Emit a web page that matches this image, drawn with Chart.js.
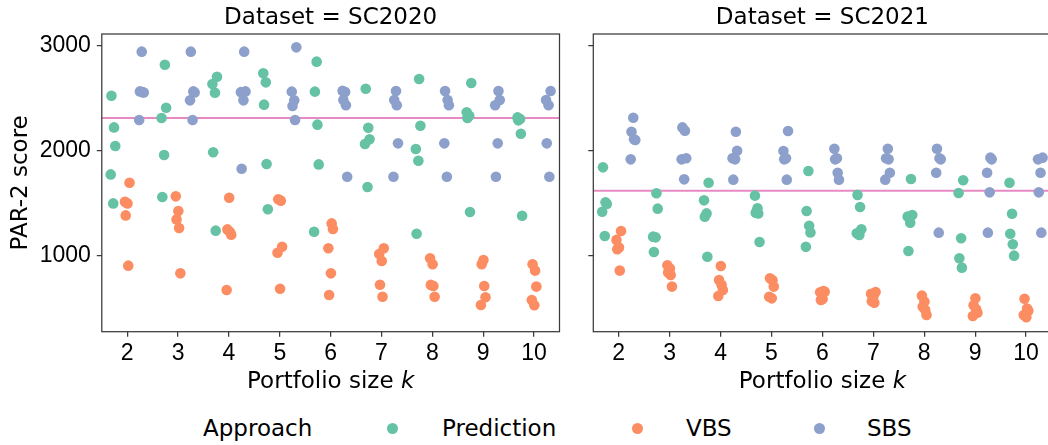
<!DOCTYPE html>
<html>
<head>
<meta charset="utf-8">
<script src="https://cdn.jsdelivr.net/npm/chart.js@4.4.1/dist/chart.umd.min.js"></script>
<style>
  html, body { margin: 0; padding: 0; background: #fff; overflow: hidden; width: 1048px; height: 445px; }
  canvas { position: absolute; top: 0; }
  #c1 { left: 0; }
  #c2 { left: 560px; }
  .leg { position: absolute; top: 415px; font: 23px "DejaVu Sans"; color: #000; line-height: 27px; white-space: nowrap; }
  .dot { position: absolute; top: 423px; width: 11px; height: 11px; border-radius: 50%; }
</style>
</head>
<body>
<canvas id="c1" width="566" height="400"></canvas>
<canvas id="c2" width="500" height="400"></canvas>

<div class="leg" style="left:203px">Approach</div>
<div class="dot" style="left:387px;background:#66c2a5"></div>
<div class="leg" style="left:442px">Prediction</div>
<div class="dot" style="left:632px;background:#fc8d62"></div>
<div class="leg" style="left:686px">VBS</div>
<div class="dot" style="left:814px;background:#8da0cb"></div>
<div class="leg" style="left:867px">SBS</div>

<script>
// portfolio sizes on the x axis
const categories = [2, 3, 4, 5, 6, 7, 8, 9, 10];
const yTicks = [1000, 2000, 3000];

// SC2020: one row per portfolio size, five scores each
const pred2020 = [
  [2524, 2223, 2046, 1776, 1500],
  [2819, 2410, 2312, 1960, 1561],
  [2705, 2635, 2553, 1986, 1241],
  [2737, 2651, 2439, 1875, 1444],
  [2848, 2563, 2249, 1871, 1231],
  [2591, 2220, 2109, 2065, 1656],
  [2683, 2239, 2017, 1906, 1212],
  [2645, 2366, 2334, 2312, 1418],
  [2318, 2303, 2290, 2163, 1383]
];
const vbs2020 = [
  [1697, 1515, 1500, 1386, 908],
  [1567, 1428, 1348, 1266, 835],
  [1554, 1253, 1228, 1203, 676],
  [1539, 1526, 1088, 1031, 689],
  [1310, 1256, 1073, 835, 629],
  [1073, 1019, 952, 727, 613],
  [978, 921, 725, 715, 613],
  [962, 921, 715, 607, 534],
  [921, 861, 709, 581, 531]
];
const sbs2020 = [
  [2943, 2565, 2558, 2555, 2293],
  [2943, 2565, 2555, 2480, 2293],
  [2943, 2565, 2558, 2480, 1830],
  [2984, 2563, 2480, 2426, 2293],
  [2570, 2560, 2483, 2433, 1754],
  [2569, 2483, 2433, 2071, 1754],
  [2569, 2483, 2433, 2071, 1754],
  [2569, 2483, 2433, 2071, 1754],
  [2569, 2483, 2433, 2071, 1754]
];

// SC2021
const pred2021 = [
  [1843, 1510, 1495, 1421, 1190],
  [1596, 1450, 1184, 1177, 1038],
  [1697, 1529, 1405, 1374, 993],
  [1574, 1453, 1412, 1405, 1133],
  [1808, 1428, 1287, 1224, 1087],
  [1581, 1466, 1254, 1216, 1200],
  [1732, 1390, 1375, 1317, 1047],
  [1720, 1599, 1168, 978, 889],
  [1697, 1402, 1212, 1111, 1003]
];
const vbs2021 = [
  [1237, 1153, 1080, 1065, 861],
  [911, 880, 842, 820, 709],
  [905, 772, 725, 677, 620],
  [788, 770, 709, 613, 597],
  [667, 660, 654, 590, 581],
  [657, 640, 620, 570, 556],
  [623, 566, 518, 487, 439],
  [597, 531, 493, 461, 430],
  [594, 500, 480, 439, 417]
];
const sbs2021 = [
  [2315, 2182, 2109, 2103, 1919],
  [2223, 2192, 1929, 1919, 1729],
  [2182, 2001, 1929, 1919, 1726],
  [2188, 1998, 1929, 1919, 1726],
  [2020, 1929, 1919, 1792, 1726],
  [2020, 1929, 1919, 1792, 1726],
  [2020, 1929, 1919, 1792, 1222],
  [1935, 1919, 1792, 1605, 1222],
  [1935, 1919, 1792, 1605, 1222]
];

// horizontal reference line per dataset
const refLine = [2312, 1621];

const colors = ['#66c2a5', '#fc8d62', '#8da0cb'];
const dodge = [-0.28, 0, 0.28];
const jitter = [-0.03, 0.02, 0.045, -0.045, 0.005];
const axisColor = '#3a3a3a';

function stripPoints(rows, hue) {
  const pts = [];
  categories.forEach((k, i) => {
    rows[i].forEach((v, j) => {
      pts.push({ x: k + dodge[hue] + jitter[(i + j + hue * 2) % jitter.length], y: v });
    });
  });
  return pts;
}

function makePanel(id, title, pred, vbs, sbs, ref, yWidth, padRight, first) {
  const deco = {
    id: 'deco',
    beforeDatasetsDraw(chart) {
      const ctx = chart.ctx, a = chart.chartArea;
      const y = chart.scales.y.getPixelForValue(ref);
      ctx.save();
      ctx.strokeStyle = '#e78ac3';
      ctx.lineWidth = 2;
      ctx.beginPath();
      ctx.moveTo(a.left, y);
      ctx.lineTo(a.right, y);
      ctx.stroke();
      ctx.restore();
    },
    afterDraw(chart) {
      const ctx = chart.ctx, a = chart.chartArea;
      ctx.save();
      ctx.strokeStyle = axisColor;
      ctx.lineWidth = 1.25;
      ctx.strokeRect(a.left, a.top, a.right - a.left, a.bottom - a.top);
      // x axis title with italic k
      const f1 = '23px "DejaVu Sans"', f2 = 'italic 23px "DejaVu Sans"';
      ctx.fillStyle = '#000';
      ctx.textBaseline = 'alphabetic';
      ctx.font = f1;
      const w1 = ctx.measureText('Portfolio size ').width;
      ctx.font = f2;
      const w2 = ctx.measureText('k').width;
      const x0 = (a.left + a.right) / 2 - (w1 + w2) / 2;
      ctx.font = f1;
      ctx.fillText('Portfolio size ', x0, 388);
      ctx.font = f2;
      ctx.fillText('k', x0 + w1, 388);
      ctx.restore();
    }
  };

  const grid = { drawOnChartArea: false, drawTicks: true, tickLength: 5, color: axisColor, lineWidth: 1.25 };

  return new Chart(document.getElementById(id), {
    type: 'scatter',
    data: {
      datasets: [
        { label: 'Prediction', data: stripPoints(pred, 0) },
        { label: 'VBS', data: stripPoints(vbs, 1) },
        { label: 'SBS', data: stripPoints(sbs, 2) }
      ].map((d, h) => Object.assign(d, {
        backgroundColor: colors[h],
        borderColor: colors[h],
        borderWidth: 0,
        pointRadius: 5.3,
        pointHoverRadius: 5.3
      }))
    },
    options: {
      responsive: false,
      animation: false,
      events: [],
      layout: { padding: { left: 0, right: padRight, top: 0, bottom: 0 } },
      plugins: {
        legend: { display: false },
        tooltip: { enabled: false },
        title: {
          display: true,
          text: title,
          fullSize: false,
          color: '#000',
          font: { family: 'DejaVu Sans', size: 23, weight: 'normal' },
          padding: { top: 4, bottom: 2.4 }
        }
      },
      scales: {
        x: {
          type: 'linear',
          min: 1.5,
          max: 10.5,
          afterBuildTicks: s => { s.ticks = categories.map(v => ({ value: v })); },
          afterFit: s => { s.height = 68.3; },
          grid: grid,
          border: { display: false },
          ticks: {
            color: '#000',
            font: { family: 'Liberation Sans', size: 23 },
            padding: 3,
            maxRotation: 0,
            autoSkip: false,
            callback: v => String(v)
          }
        },
        y: {
          type: 'linear',
          min: 280,
          max: 3111,
          afterBuildTicks: s => { s.ticks = yTicks.map(v => ({ value: v })); },
          afterFit: s => { s.width = yWidth; },
          grid: grid,
          border: { display: false },
          ticks: {
            display: first,
            color: '#000',
            font: { family: 'Liberation Sans', size: 23 },
            padding: 6,
            callback: v => String(v)
          },
          title: {
            display: first,
            text: 'PAR-2 score',
            color: '#000',
            font: { family: 'DejaVu Sans', size: 23 },
            padding: { top: 7, bottom: 0 }
          }
        }
      }
    },
    plugins: [deco]
  });
}

makePanel('c1', 'Dataset = SC2020', pred2020, vbs2020, sbs2020, refLine[0], 101.8, 6.5, true);
makePanel('c2', 'Dataset = SC2021', pred2021, vbs2021, sbs2021, refLine[1], 33.3, 8.5, false);
</script>
</body>
</html>
